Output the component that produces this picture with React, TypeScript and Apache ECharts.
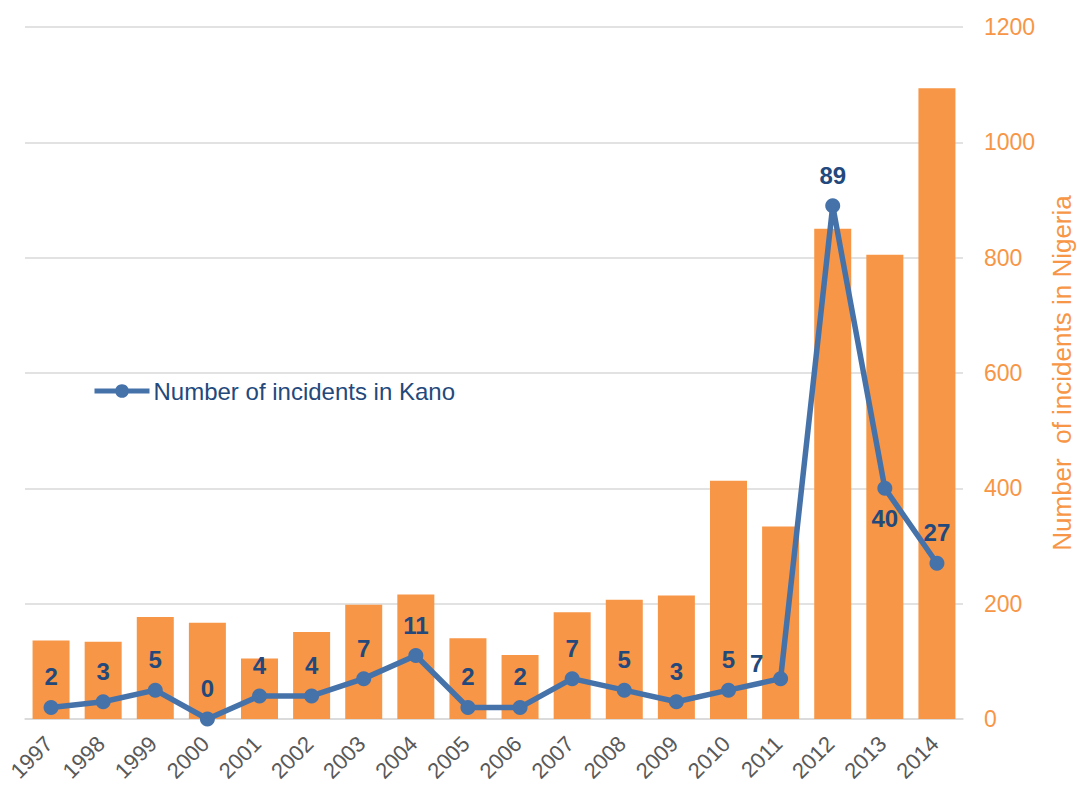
import React, { useEffect, useRef } from "react";
import * as echarts from "echarts";

const years = ["1997","1998","1999","2000","2001","2002","2003","2004","2005","2006","2007","2008","2009","2010","2011","2012","2013","2014"];
const nigeria = [136,134,177,167,105,151,198,216,140,111,185,207,214,413,334,850,805,1094];
const kano = [2,3,5,0,4,4,7,11,2,2,7,5,3,5,7,89,40,27];
const rightTicks = [0, 200, 400, 600, 800, 1000, 1200];

const ORANGE = "#F79646";
const BLUE = "#4672AA";
const DARKBLUE = "#23497C";
const FONT = "'Liberation Sans', Arial, sans-serif";

export default function App() {
  const ref = useRef<HTMLDivElement>(null);
  useEffect(() => {
    if (!ref.current) return;
    const chart = echarts.init(ref.current, undefined, { renderer: "svg" });
    const kanoData = kano.map((v, i) => {
      if (years[i] === "2011") {
        return { value: v, label: { position: "top", offset: [-24, 15] } };
      }
      if (years[i] === "2013") {
        return { value: v, label: { position: "bottom" } };
      }
      return { value: v };
    });
    chart.setOption({
      animation: false,
      backgroundColor: "#ffffff",
      textStyle: { fontFamily: FONT },
      grid: { left: 25, right: 114, top: 27, bottom: 68, containLabel: false, outerBoundsMode: "none" },
      legend: {
        left: 92,
        top: 379,
        padding: 0,
        itemWidth: 55,
        itemHeight: 17,
        itemGap: 4,
        lineStyle: { width: 5 },
        data: [{ name: "Number of incidents in Kano" }],
        textStyle: { color: DARKBLUE, fontSize: 24, fontFamily: FONT, padding: [0, 0, 0, -1] },
      },
      xAxis: {
        type: "category",
        data: years,
        axisLine: { show: true, lineStyle: { color: "#D9D9D9", width: 1.5 } },
        axisTick: { show: false },
        axisLabel: {
          rotate: 45,
          color: "#595959",
          fontSize: 22,
          margin: 19,
          padding: [0, 3, 0, 0],
          interval: 0,
          fontFamily: FONT,
        },
      },
      yAxis: [
        {
          type: "value",
          position: "right",
          min: rightTicks[0],
          max: rightTicks[rightTicks.length - 1],
          interval: 200,
          name: "Number  of incidents in Nigeria",
          nameLocation: "middle",
          nameGap: 86,
          nameTextStyle: { color: ORANGE, fontSize: 26, fontFamily: FONT },
          axisLine: { show: false },
          axisTick: { show: false },
          axisLabel: { color: ORANGE, fontSize: 23, margin: 21, fontFamily: FONT, formatter: (v: number) => String(v) },
          splitLine: { lineStyle: { color: "#D9D9D9", width: 1.5 } },
        },
        {
          type: "value",
          position: "left",
          min: 0,
          max: 120,
          show: false,
          splitLine: { show: false },
        },
      ],
      series: [
        {
          type: "bar",
          name: "Number of incidents in Nigeria",
          data: nigeria,
          yAxisIndex: 0,
          barCategoryGap: "29%",
          itemStyle: { color: ORANGE },
        },
        {
          type: "line",
          name: "Number of incidents in Kano",
          data: kanoData,
          yAxisIndex: 1,
          symbol: "circle",
          symbolSize: 15,
          lineStyle: { color: BLUE, width: 5.5 },
          itemStyle: { color: BLUE },
          label: {
            show: true,
            position: "top",
            distance: 11,
            color: DARKBLUE,
            fontSize: 24,
            fontWeight: "bold",
            fontFamily: FONT,
          },
          z: 3,
        },
      ],
    });
    return () => chart.dispose();
  }, []);
  return (
    <div
      ref={ref}
      style={{ position: "absolute", left: 0, top: 0, width: 1077, height: 787, background: "#fff" }}
    />
  );
}
